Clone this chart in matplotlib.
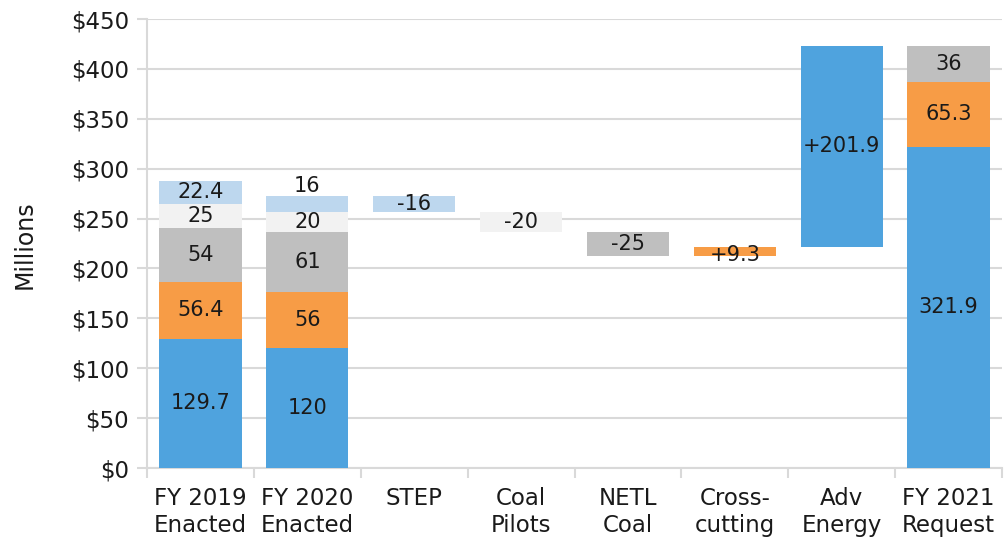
import numpy as np
import matplotlib.pyplot as plt
from matplotlib.ticker import FuncFormatter

# --- Dados (milhões de dólares) ---
categorias = ['FY 2019\nEnacted', 'FY 2020\nEnacted', 'STEP', 'Coal\nPilots',
              'NETL\nCoal', 'Cross-\ncutting', 'Adv\nEnergy', 'FY 2021\nRequest']

# componentes empilhados de cada ano: azul, laranja, cinza, cinza claro, azul claro
fy2019 = [129.7, 56.4, 54, 25, 22.4]
fy2020 = [120, 56, 61, 20, 16]
fy2021 = [321.9, 65.3, 36, 0, 0]

# variações entre FY 2020 e FY 2021
variacoes = [-16, -20, -25, 9.3, 201.9]
cor_variacao = [4, 3, 2, 1, 0]

cores = ['#4FA3DE', '#F79C46', '#BFBFBF', '#F2F2F2', '#BDD7EE']
cor_grade = '#D9D9D9'
cor_texto = '#1a1a1a'
tam_barra = 15
tam_eixo = 16.5

plt.rcParams['font.family'] = ['DejaVu Sans']

fig = plt.figure(figsize=(10.05, 5.39), dpi=100)
ax = fig.add_axes([0.1463, 0.1317, 0.8507, 0.833])

largura = 0.77

def empilhar(x, valores):
    base = 0
    for i, v in enumerate(valores):
        if v == 0:
            continue
        ax.bar(x, v, largura, bottom=base, color=cores[i], zorder=3)
        dy = 0
        if x == 1 and i == 4:
            dy = 18  # rótulo pequeno fica acima da barra
        ax.text(x, base + v / 2 + dy, f'{v:g}', ha='center', va='center',
                fontsize=tam_barra, color=cor_texto, zorder=4)
        base += v

empilhar(0, fy2019)
empilhar(1, fy2020)

# barras flutuantes da cascata
nivel = sum(fy2020)
for k, (d, c) in enumerate(zip(variacoes, cor_variacao)):
    x = 2 + k
    base = nivel + min(d, 0)
    ax.bar(x, abs(d), largura, bottom=base, color=cores[c], zorder=3)
    rotulo = f'+{d:g}' if d > 0 else f'{d:g}'
    ax.text(x, base + abs(d) / 2 - (3 if k == 3 else 0), rotulo, ha='center',
            va='center', fontsize=tam_barra, color=cor_texto, zorder=4)
    nivel += d

empilhar(7, fy2021)

# --- Eixos ---
ax.set_xlim(-0.5, 7.5)
ax.set_ylim(0, 450)
ax.set_yticks(np.arange(0, 451, 50))
ax.yaxis.set_major_formatter(FuncFormatter(lambda v, p: f'${v:.0f}'))
ax.grid(axis='y', color=cor_grade, linewidth=1.5, zorder=0)

ax.set_xticks(range(len(categorias)))
ax.set_xticklabels(categorias, fontsize=tam_eixo, linespacing=1.22, color=cor_texto)
ax.set_xticks(np.arange(-0.5, 8, 1), minor=True)
ax.tick_params(axis='x', which='major', length=0, pad=14)
ax.tick_params(axis='x', which='minor', length=7, width=1.5, color=cor_grade)
ax.tick_params(axis='y', length=7, width=1.5, color=cor_grade, labelsize=tam_eixo,
               labelcolor=cor_texto, pad=6)

for lado in ['top', 'right']:
    ax.spines[lado].set_visible(False)
for lado in ['left', 'bottom']:
    ax.spines[lado].set_color(cor_grade)
    ax.spines[lado].set_linewidth(1.5)

fig.text(25 / 1005, 1 - 245 / 539, 'Millions', rotation=90, ha='center',
         va='center', fontsize=17, color=cor_texto)

plt.savefig('out.png', dpi=100)
plt.close()
